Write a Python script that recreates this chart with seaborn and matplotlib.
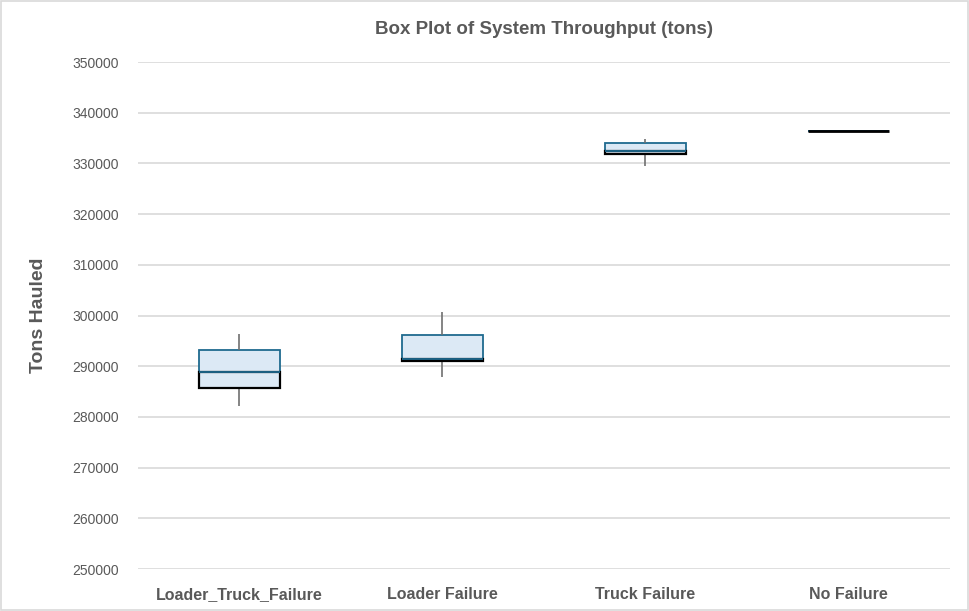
import numpy as np
import pandas as pd
import matplotlib
matplotlib.use("Agg")
import matplotlib.pyplot as plt
import seaborn as sns
from matplotlib.patches import Rectangle

# five-number summaries: min, Q1, median, Q3, max
scenarios = ["Loader_Truck_Failure", "Loader Failure", "Truck Failure", "No Failure"]
loader_truck_failure = [282200, 285800, 288900, 293200, 296300]
loader_failure = [287900, 291000, 291400, 296200, 300600]
truck_failure = [329400, 331800, 332450, 333950, 334800]
no_failure = [336300, 336300, 336300, 336300, 336300]

y_ticks = list(range(250000, 350001, 10000))

groups = [loader_truck_failure, loader_failure, truck_failure, no_failure]
df = pd.DataFrame({
    "scenario": np.repeat(scenarios, [len(g) for g in groups]),
    "tons": np.concatenate(groups),
})

sns.set_theme(style="white")
plt.rcParams['font.family'] = ['Liberation Sans', 'DejaVu Sans']

fig, ax = plt.subplots(figsize=(9.7, 6.11), dpi=100)
fig.subplots_adjust(left=0.1423, right=0.979, bottom=0.0687, top=0.8985)

fill_c = "#dce9f5"
edge_c = "#1f6a8f"

# lower part of each box (Q1 to median) has a black outline
q1 = [g[1] for g in groups]
med = [g[2] for g in groups]
bars = ax.bar(range(len(scenarios)), np.array(med) - np.array(q1), bottom=q1,
              width=0.4, color=fill_c, edgecolor="black", linewidth=1.6, zorder=4)
for patch, g in zip(bars, groups):
    if g[1] == g[3]:
        # flat box: the black outline sits on top
        patch.set_zorder(7)
        patch.set_linewidth(2)

sns.boxplot(data=df, x="scenario", y="tons", order=scenarios, ax=ax,
            whis=np.inf, width=0.4, color=fill_c, linecolor=edge_c,
            saturation=1, linewidth=1.3, showcaps=False, fliersize=0,
            whiskerprops={"color": "#707070", "linewidth": 1.2},
            medianprops={"color": edge_c, "linewidth": 1.3, "zorder": 6},
            zorder=3)

ax.set_xlim(-0.5, len(scenarios) - 0.5)
ax.set_ylim(250000, 350000)
ax.set_yticks(y_ticks)
ax.set_yticklabels([str(t) for t in y_ticks])
ax.yaxis.grid(True, color="#d9d9d9", linewidth=1.2)
ax.set_axisbelow(True)
for s in ax.spines.values():
    s.set_visible(False)
ax.tick_params(axis="y", labelsize=10, colors="#595959", length=0, pad=14)
ax.tick_params(axis="x", length=0, pad=13)
for lbl in ax.get_xticklabels():
    lbl.set_fontweight("bold")
    lbl.set_fontsize(11.5)
    lbl.set_color("#595959")

ax.set_xlabel("")
ax.set_ylabel("Tons Hauled", fontsize=14, fontweight="bold", color="#595959", labelpad=18)
ax.set_title("Box Plot of System Throughput (tons)", fontsize=13.5, fontweight="bold",
             color="#595959", pad=20)

fig.patches.append(Rectangle((0.001, 0.002), 0.997, 0.996, transform=fig.transFigure,
                             fill=False, edgecolor="#d9d9d9", linewidth=1.2))

fig.savefig("out.png", dpi=100)
